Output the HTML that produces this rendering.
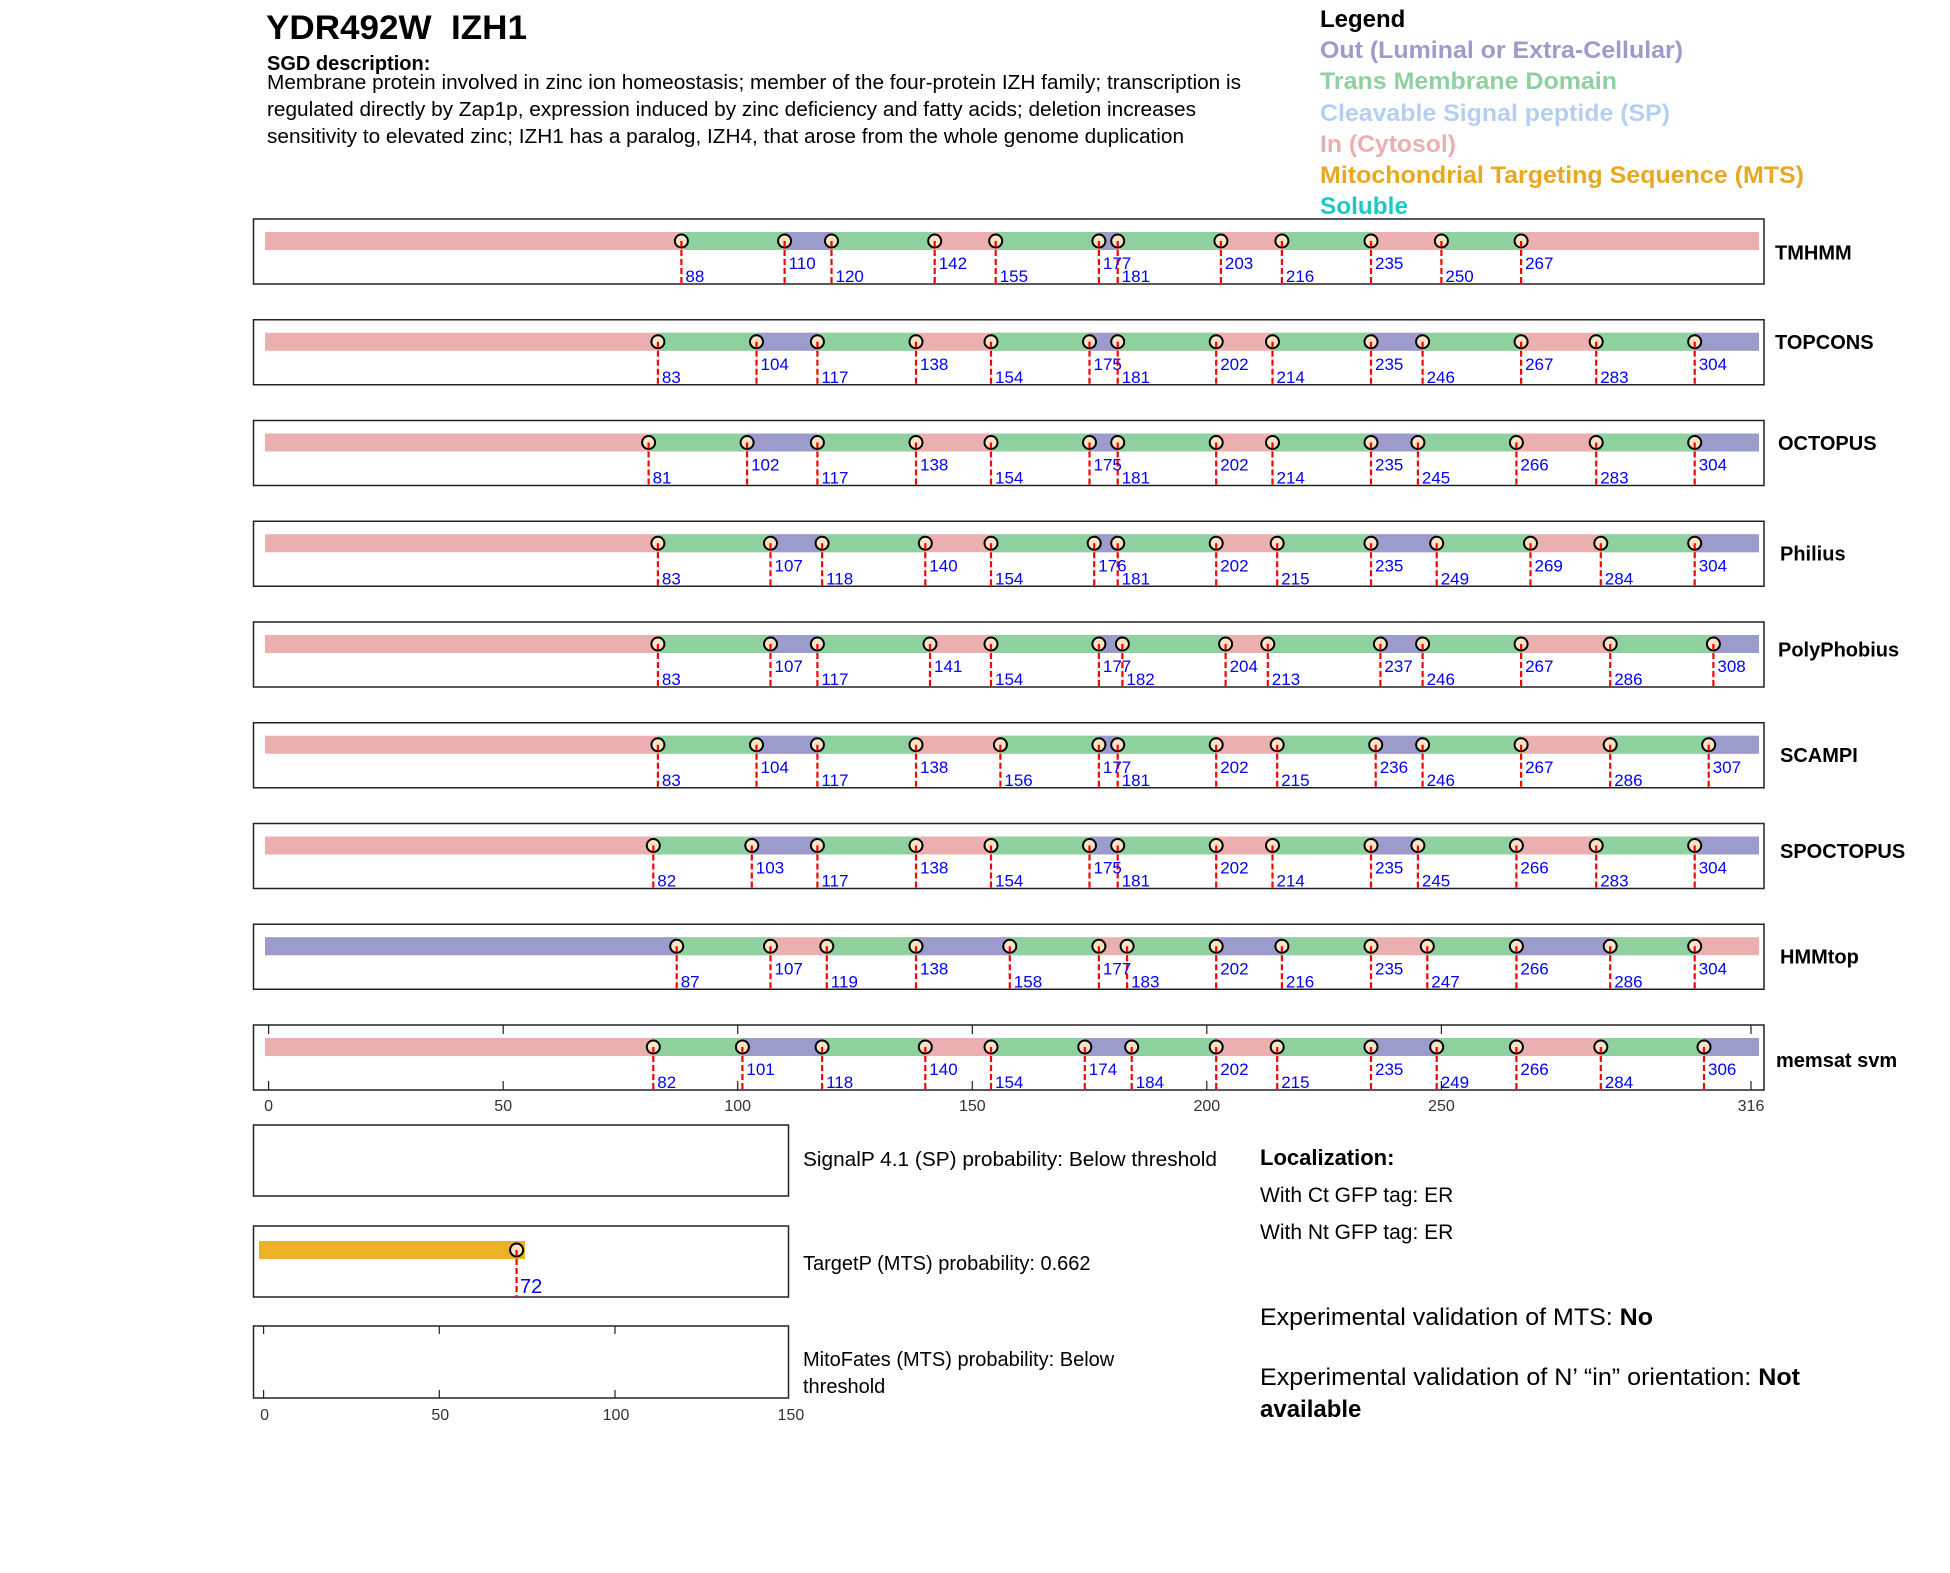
<!DOCTYPE html>
<html><head><meta charset="utf-8"><style>
html,body{margin:0;padding:0;background:#fff}
svg{display:block;font-family:"Liberation Sans",Arial,sans-serif}
.bx{fill:none;stroke:#222;stroke-width:1.5}
.g{fill:#8fd19e}.p{fill:#9b9bcc}.k{fill:#ebafb0}
.m circle,circle.m{r:6.5}
.m{fill:#fbe3c6;stroke:#000;stroke-width:2}
.d{stroke:#f00;stroke-width:2.2;stroke-dasharray:6,3}
.l{fill:#0000ff;font-size:17px}
.tn{font-size:20px;font-weight:bold;fill:#000}
.tk{font-size:16px;fill:#333}
.tm{stroke:#222;stroke-width:1.2}
</style></head><body>
<svg width="1950" height="1573" viewBox="0 0 1950 1573" xmlns="http://www.w3.org/2000/svg">
<text x="266" y="39" font-size="34" font-weight="bold" textLength="261" lengthAdjust="spacingAndGlyphs" style="white-space:pre">YDR492W  IZH1</text>
<text x="267" y="70" font-size="20" font-weight="bold">SGD description:</text>
<text x="267" y="89" font-size="20" textLength="974" lengthAdjust="spacingAndGlyphs">Membrane protein involved in zinc ion homeostasis; member of the four-protein IZH family; transcription is</text>
<text x="267" y="116" font-size="20" textLength="929" lengthAdjust="spacingAndGlyphs">regulated directly by Zap1p, expression induced by zinc deficiency and fatty acids; deletion increases</text>
<text x="267" y="143" font-size="20" textLength="917" lengthAdjust="spacingAndGlyphs">sensitivity to elevated zinc; IZH1 has a paralog, IZH4, that arose from the whole genome duplication</text>

<g font-size="24" font-weight="bold">
<text x="1320" y="27" fill="#000">Legend</text>
<text x="1320" y="58" fill="#9b9bcc" textLength="363" lengthAdjust="spacingAndGlyphs">Out (Luminal or Extra-Cellular)</text>
<text x="1320" y="89" fill="#8fd19e" textLength="297" lengthAdjust="spacingAndGlyphs">Trans Membrane Domain</text>
<text x="1320" y="121" fill="#b5cff0" textLength="350" lengthAdjust="spacingAndGlyphs">Cleavable Signal peptide (SP)</text>
<text x="1320" y="152" fill="#ebafb0" textLength="136" lengthAdjust="spacingAndGlyphs">In (Cytosol)</text>
<text x="1320" y="183" fill="#e8a820" textLength="484" lengthAdjust="spacingAndGlyphs">Mitochondrial Targeting Sequence (MTS)</text>
<text x="1320" y="214" fill="#1ec8c8" textLength="88" lengthAdjust="spacingAndGlyphs">Soluble</text>
</g>

<!-- TMHMM -->
<g transform="translate(0,219)">
<rect class="bx" x="253.5" y="0" width="1510.5" height="65"/>
<rect class="k" x="265" y="13" width="1494" height="18"/>
<rect class="g" x="681.4" y="13" width="103.2" height="18"/><rect class="p" x="784.6" y="13" width="46.9" height="18"/><rect class="g" x="831.5" y="13" width="103.2" height="18"/><rect class="g" x="995.7" y="13" width="103.2" height="18"/><rect class="p" x="1098.9" y="13" width="18.8" height="18"/><rect class="g" x="1117.7" y="13" width="103.2" height="18"/><rect class="g" x="1281.9" y="13" width="89.1" height="18"/><rect class="g" x="1441.4" y="13" width="79.7" height="18"/>
<g class="m"><circle cx="681.4" cy="22" r="6.5"/><circle cx="784.6" cy="22" r="6.5"/><circle cx="831.5" cy="22" r="6.5"/><circle cx="934.7" cy="22" r="6.5"/><circle cx="995.7" cy="22" r="6.5"/><circle cx="1098.9" cy="22" r="6.5"/><circle cx="1117.7" cy="22" r="6.5"/><circle cx="1220.9" cy="22" r="6.5"/><circle cx="1281.9" cy="22" r="6.5"/><circle cx="1371" cy="22" r="6.5"/><circle cx="1441.4" cy="22" r="6.5"/><circle cx="1521.1" cy="22" r="6.5"/></g>
<g class="d"><line x1="681.4" x2="681.4" y1="22" y2="65"/><line x1="784.6" x2="784.6" y1="22" y2="65"/><line x1="831.5" x2="831.5" y1="22" y2="65"/><line x1="934.7" x2="934.7" y1="22" y2="65"/><line x1="995.7" x2="995.7" y1="22" y2="65"/><line x1="1098.9" x2="1098.9" y1="22" y2="65"/><line x1="1117.7" x2="1117.7" y1="22" y2="65"/><line x1="1220.9" x2="1220.9" y1="22" y2="65"/><line x1="1281.9" x2="1281.9" y1="22" y2="65"/><line x1="1371" x2="1371" y1="22" y2="65"/><line x1="1441.4" x2="1441.4" y1="22" y2="65"/><line x1="1521.1" x2="1521.1" y1="22" y2="65"/></g>
<g class="l"><text x="685.4" y="63">88</text><text x="788.6" y="50">110</text><text x="835.5" y="63">120</text><text x="938.7" y="50">142</text><text x="999.7" y="63">155</text><text x="1102.9" y="50">177</text><text x="1121.7" y="63">181</text><text x="1224.9" y="50">203</text><text x="1285.9" y="63">216</text><text x="1375" y="50">235</text><text x="1445.4" y="63">250</text><text x="1525.1" y="50">267</text></g>
<text class="tn" x="1775" y="40.6">TMHMM</text>
</g>

<!-- TOPCONS -->
<g transform="translate(0,319.75)">
<rect class="bx" x="253.5" y="0" width="1510.5" height="65"/>
<rect class="k" x="265" y="13" width="1494" height="18"/>
<rect class="g" x="657.9" y="13" width="98.6" height="18"/><rect class="p" x="756.5" y="13" width="60.9" height="18"/><rect class="g" x="817.4" y="13" width="98.6" height="18"/><rect class="g" x="991" y="13" width="98.5" height="18"/><rect class="p" x="1089.5" y="13" width="28.2" height="18"/><rect class="g" x="1117.7" y="13" width="98.5" height="18"/><rect class="g" x="1272.5" y="13" width="98.5" height="18"/><rect class="p" x="1371" y="13" width="51.6" height="18"/><rect class="g" x="1422.6" y="13" width="98.5" height="18"/><rect class="g" x="1596.2" y="13" width="98.5" height="18"/><rect class="p" x="1694.7" y="13" width="64.3" height="18"/>
<g class="m"><circle cx="657.9" cy="22" r="6.5"/><circle cx="756.5" cy="22" r="6.5"/><circle cx="817.4" cy="22" r="6.5"/><circle cx="916" cy="22" r="6.5"/><circle cx="991" cy="22" r="6.5"/><circle cx="1089.5" cy="22" r="6.5"/><circle cx="1117.7" cy="22" r="6.5"/><circle cx="1216.2" cy="22" r="6.5"/><circle cx="1272.5" cy="22" r="6.5"/><circle cx="1371" cy="22" r="6.5"/><circle cx="1422.6" cy="22" r="6.5"/><circle cx="1521.1" cy="22" r="6.5"/><circle cx="1596.2" cy="22" r="6.5"/><circle cx="1694.7" cy="22" r="6.5"/></g>
<g class="d"><line x1="657.9" x2="657.9" y1="22" y2="65"/><line x1="756.5" x2="756.5" y1="22" y2="65"/><line x1="817.4" x2="817.4" y1="22" y2="65"/><line x1="916" x2="916" y1="22" y2="65"/><line x1="991" x2="991" y1="22" y2="65"/><line x1="1089.5" x2="1089.5" y1="22" y2="65"/><line x1="1117.7" x2="1117.7" y1="22" y2="65"/><line x1="1216.2" x2="1216.2" y1="22" y2="65"/><line x1="1272.5" x2="1272.5" y1="22" y2="65"/><line x1="1371" x2="1371" y1="22" y2="65"/><line x1="1422.6" x2="1422.6" y1="22" y2="65"/><line x1="1521.1" x2="1521.1" y1="22" y2="65"/><line x1="1596.2" x2="1596.2" y1="22" y2="65"/><line x1="1694.7" x2="1694.7" y1="22" y2="65"/></g>
<g class="l"><text x="661.9" y="63">83</text><text x="760.5" y="50">104</text><text x="821.4" y="63">117</text><text x="920" y="50">138</text><text x="995" y="63">154</text><text x="1093.5" y="50">175</text><text x="1121.7" y="63">181</text><text x="1220.2" y="50">202</text><text x="1276.5" y="63">214</text><text x="1375" y="50">235</text><text x="1426.6" y="63">246</text><text x="1525.1" y="50">267</text><text x="1600.2" y="63">283</text><text x="1698.7" y="50">304</text></g>
<text class="tn" x="1775" y="29.4">TOPCONS</text>
</g>

<!-- OCTOPUS -->
<g transform="translate(0,420.5)">
<rect class="bx" x="253.5" y="0" width="1510.5" height="65"/>
<rect class="k" x="265" y="13" width="1494" height="18"/>
<rect class="g" x="648.6" y="13" width="98.5" height="18"/><rect class="p" x="747.1" y="13" width="70.3" height="18"/><rect class="g" x="817.4" y="13" width="98.6" height="18"/><rect class="g" x="991" y="13" width="98.5" height="18"/><rect class="p" x="1089.5" y="13" width="28.2" height="18"/><rect class="g" x="1117.7" y="13" width="98.5" height="18"/><rect class="g" x="1272.5" y="13" width="98.5" height="18"/><rect class="p" x="1371" y="13" width="46.9" height="18"/><rect class="g" x="1417.9" y="13" width="98.5" height="18"/><rect class="g" x="1596.2" y="13" width="98.5" height="18"/><rect class="p" x="1694.7" y="13" width="64.3" height="18"/>
<g class="m"><circle cx="648.6" cy="22" r="6.5"/><circle cx="747.1" cy="22" r="6.5"/><circle cx="817.4" cy="22" r="6.5"/><circle cx="916" cy="22" r="6.5"/><circle cx="991" cy="22" r="6.5"/><circle cx="1089.5" cy="22" r="6.5"/><circle cx="1117.7" cy="22" r="6.5"/><circle cx="1216.2" cy="22" r="6.5"/><circle cx="1272.5" cy="22" r="6.5"/><circle cx="1371" cy="22" r="6.5"/><circle cx="1417.9" cy="22" r="6.5"/><circle cx="1516.4" cy="22" r="6.5"/><circle cx="1596.2" cy="22" r="6.5"/><circle cx="1694.7" cy="22" r="6.5"/></g>
<g class="d"><line x1="648.6" x2="648.6" y1="22" y2="65"/><line x1="747.1" x2="747.1" y1="22" y2="65"/><line x1="817.4" x2="817.4" y1="22" y2="65"/><line x1="916" x2="916" y1="22" y2="65"/><line x1="991" x2="991" y1="22" y2="65"/><line x1="1089.5" x2="1089.5" y1="22" y2="65"/><line x1="1117.7" x2="1117.7" y1="22" y2="65"/><line x1="1216.2" x2="1216.2" y1="22" y2="65"/><line x1="1272.5" x2="1272.5" y1="22" y2="65"/><line x1="1371" x2="1371" y1="22" y2="65"/><line x1="1417.9" x2="1417.9" y1="22" y2="65"/><line x1="1516.4" x2="1516.4" y1="22" y2="65"/><line x1="1596.2" x2="1596.2" y1="22" y2="65"/><line x1="1694.7" x2="1694.7" y1="22" y2="65"/></g>
<g class="l"><text x="652.6" y="63">81</text><text x="751.1" y="50">102</text><text x="821.4" y="63">117</text><text x="920" y="50">138</text><text x="995" y="63">154</text><text x="1093.5" y="50">175</text><text x="1121.7" y="63">181</text><text x="1220.2" y="50">202</text><text x="1276.5" y="63">214</text><text x="1375" y="50">235</text><text x="1421.9" y="63">245</text><text x="1520.4" y="50">266</text><text x="1600.2" y="63">283</text><text x="1698.7" y="50">304</text></g>
<text class="tn" x="1778" y="29.4">OCTOPUS</text>
</g>

<!-- Philius -->
<g transform="translate(0,521.25)">
<rect class="bx" x="253.5" y="0" width="1510.5" height="65"/>
<rect class="k" x="265" y="13" width="1494" height="18"/>
<rect class="g" x="657.9" y="13" width="112.6" height="18"/><rect class="p" x="770.5" y="13" width="51.6" height="18"/><rect class="g" x="822.1" y="13" width="103.2" height="18"/><rect class="g" x="991" y="13" width="103.2" height="18"/><rect class="p" x="1094.2" y="13" width="23.5" height="18"/><rect class="g" x="1117.7" y="13" width="98.5" height="18"/><rect class="g" x="1277.2" y="13" width="93.8" height="18"/><rect class="p" x="1371" y="13" width="65.7" height="18"/><rect class="g" x="1436.7" y="13" width="93.8" height="18"/><rect class="g" x="1600.8" y="13" width="93.9" height="18"/><rect class="p" x="1694.7" y="13" width="64.3" height="18"/>
<g class="m"><circle cx="657.9" cy="22" r="6.5"/><circle cx="770.5" cy="22" r="6.5"/><circle cx="822.1" cy="22" r="6.5"/><circle cx="925.3" cy="22" r="6.5"/><circle cx="991" cy="22" r="6.5"/><circle cx="1094.2" cy="22" r="6.5"/><circle cx="1117.7" cy="22" r="6.5"/><circle cx="1216.2" cy="22" r="6.5"/><circle cx="1277.2" cy="22" r="6.5"/><circle cx="1371" cy="22" r="6.5"/><circle cx="1436.7" cy="22" r="6.5"/><circle cx="1530.5" cy="22" r="6.5"/><circle cx="1600.8" cy="22" r="6.5"/><circle cx="1694.7" cy="22" r="6.5"/></g>
<g class="d"><line x1="657.9" x2="657.9" y1="22" y2="65"/><line x1="770.5" x2="770.5" y1="22" y2="65"/><line x1="822.1" x2="822.1" y1="22" y2="65"/><line x1="925.3" x2="925.3" y1="22" y2="65"/><line x1="991" x2="991" y1="22" y2="65"/><line x1="1094.2" x2="1094.2" y1="22" y2="65"/><line x1="1117.7" x2="1117.7" y1="22" y2="65"/><line x1="1216.2" x2="1216.2" y1="22" y2="65"/><line x1="1277.2" x2="1277.2" y1="22" y2="65"/><line x1="1371" x2="1371" y1="22" y2="65"/><line x1="1436.7" x2="1436.7" y1="22" y2="65"/><line x1="1530.5" x2="1530.5" y1="22" y2="65"/><line x1="1600.8" x2="1600.8" y1="22" y2="65"/><line x1="1694.7" x2="1694.7" y1="22" y2="65"/></g>
<g class="l"><text x="661.9" y="63">83</text><text x="774.5" y="50">107</text><text x="826.1" y="63">118</text><text x="929.3" y="50">140</text><text x="995" y="63">154</text><text x="1098.2" y="50">176</text><text x="1121.7" y="63">181</text><text x="1220.2" y="50">202</text><text x="1281.2" y="63">215</text><text x="1375" y="50">235</text><text x="1440.7" y="63">249</text><text x="1534.5" y="50">269</text><text x="1604.8" y="63">284</text><text x="1698.7" y="50">304</text></g>
<text class="tn" x="1780" y="39.3">Philius</text>
</g>

<!-- PolyPhobius -->
<g transform="translate(0,622)">
<rect class="bx" x="253.5" y="0" width="1510.5" height="65"/>
<rect class="k" x="265" y="13" width="1494" height="18"/>
<rect class="g" x="657.9" y="13" width="112.6" height="18"/><rect class="p" x="770.5" y="13" width="46.9" height="18"/><rect class="g" x="817.4" y="13" width="112.6" height="18"/><rect class="g" x="991" y="13" width="107.9" height="18"/><rect class="p" x="1098.9" y="13" width="23.5" height="18"/><rect class="g" x="1122.4" y="13" width="103.2" height="18"/><rect class="g" x="1267.8" y="13" width="112.6" height="18"/><rect class="p" x="1380.4" y="13" width="42.2" height="18"/><rect class="g" x="1422.6" y="13" width="98.5" height="18"/><rect class="g" x="1610.2" y="13" width="103.2" height="18"/><rect class="p" x="1713.4" y="13" width="45.6" height="18"/>
<g class="m"><circle cx="657.9" cy="22" r="6.5"/><circle cx="770.5" cy="22" r="6.5"/><circle cx="817.4" cy="22" r="6.5"/><circle cx="930" cy="22" r="6.5"/><circle cx="991" cy="22" r="6.5"/><circle cx="1098.9" cy="22" r="6.5"/><circle cx="1122.4" cy="22" r="6.5"/><circle cx="1225.6" cy="22" r="6.5"/><circle cx="1267.8" cy="22" r="6.5"/><circle cx="1380.4" cy="22" r="6.5"/><circle cx="1422.6" cy="22" r="6.5"/><circle cx="1521.1" cy="22" r="6.5"/><circle cx="1610.2" cy="22" r="6.5"/><circle cx="1713.4" cy="22" r="6.5"/></g>
<g class="d"><line x1="657.9" x2="657.9" y1="22" y2="65"/><line x1="770.5" x2="770.5" y1="22" y2="65"/><line x1="817.4" x2="817.4" y1="22" y2="65"/><line x1="930" x2="930" y1="22" y2="65"/><line x1="991" x2="991" y1="22" y2="65"/><line x1="1098.9" x2="1098.9" y1="22" y2="65"/><line x1="1122.4" x2="1122.4" y1="22" y2="65"/><line x1="1225.6" x2="1225.6" y1="22" y2="65"/><line x1="1267.8" x2="1267.8" y1="22" y2="65"/><line x1="1380.4" x2="1380.4" y1="22" y2="65"/><line x1="1422.6" x2="1422.6" y1="22" y2="65"/><line x1="1521.1" x2="1521.1" y1="22" y2="65"/><line x1="1610.2" x2="1610.2" y1="22" y2="65"/><line x1="1713.4" x2="1713.4" y1="22" y2="65"/></g>
<g class="l"><text x="661.9" y="63">83</text><text x="774.5" y="50">107</text><text x="821.4" y="63">117</text><text x="934" y="50">141</text><text x="995" y="63">154</text><text x="1102.9" y="50">177</text><text x="1126.4" y="63">182</text><text x="1229.6" y="50">204</text><text x="1271.8" y="63">213</text><text x="1384.4" y="50">237</text><text x="1426.6" y="63">246</text><text x="1525.1" y="50">267</text><text x="1614.2" y="63">286</text><text x="1717.4" y="50">308</text></g>
<text class="tn" x="1778" y="34.4">PolyPhobius</text>
</g>

<!-- SCAMPI -->
<g transform="translate(0,722.75)">
<rect class="bx" x="253.5" y="0" width="1510.5" height="65"/>
<rect class="k" x="265" y="13" width="1494" height="18"/>
<rect class="g" x="657.9" y="13" width="98.6" height="18"/><rect class="p" x="756.5" y="13" width="60.9" height="18"/><rect class="g" x="817.4" y="13" width="98.6" height="18"/><rect class="g" x="1000.4" y="13" width="98.5" height="18"/><rect class="p" x="1098.9" y="13" width="18.8" height="18"/><rect class="g" x="1117.7" y="13" width="98.5" height="18"/><rect class="g" x="1277.2" y="13" width="98.5" height="18"/><rect class="p" x="1375.7" y="13" width="46.9" height="18"/><rect class="g" x="1422.6" y="13" width="98.5" height="18"/><rect class="g" x="1610.2" y="13" width="98.5" height="18"/><rect class="p" x="1708.7" y="13" width="50.3" height="18"/>
<g class="m"><circle cx="657.9" cy="22" r="6.5"/><circle cx="756.5" cy="22" r="6.5"/><circle cx="817.4" cy="22" r="6.5"/><circle cx="916" cy="22" r="6.5"/><circle cx="1000.4" cy="22" r="6.5"/><circle cx="1098.9" cy="22" r="6.5"/><circle cx="1117.7" cy="22" r="6.5"/><circle cx="1216.2" cy="22" r="6.5"/><circle cx="1277.2" cy="22" r="6.5"/><circle cx="1375.7" cy="22" r="6.5"/><circle cx="1422.6" cy="22" r="6.5"/><circle cx="1521.1" cy="22" r="6.5"/><circle cx="1610.2" cy="22" r="6.5"/><circle cx="1708.7" cy="22" r="6.5"/></g>
<g class="d"><line x1="657.9" x2="657.9" y1="22" y2="65"/><line x1="756.5" x2="756.5" y1="22" y2="65"/><line x1="817.4" x2="817.4" y1="22" y2="65"/><line x1="916" x2="916" y1="22" y2="65"/><line x1="1000.4" x2="1000.4" y1="22" y2="65"/><line x1="1098.9" x2="1098.9" y1="22" y2="65"/><line x1="1117.7" x2="1117.7" y1="22" y2="65"/><line x1="1216.2" x2="1216.2" y1="22" y2="65"/><line x1="1277.2" x2="1277.2" y1="22" y2="65"/><line x1="1375.7" x2="1375.7" y1="22" y2="65"/><line x1="1422.6" x2="1422.6" y1="22" y2="65"/><line x1="1521.1" x2="1521.1" y1="22" y2="65"/><line x1="1610.2" x2="1610.2" y1="22" y2="65"/><line x1="1708.7" x2="1708.7" y1="22" y2="65"/></g>
<g class="l"><text x="661.9" y="63">83</text><text x="760.5" y="50">104</text><text x="821.4" y="63">117</text><text x="920" y="50">138</text><text x="1004.4" y="63">156</text><text x="1102.9" y="50">177</text><text x="1121.7" y="63">181</text><text x="1220.2" y="50">202</text><text x="1281.2" y="63">215</text><text x="1379.7" y="50">236</text><text x="1426.6" y="63">246</text><text x="1525.1" y="50">267</text><text x="1614.2" y="63">286</text><text x="1712.7" y="50">307</text></g>
<text class="tn" x="1780" y="39.3">SCAMPI</text>
</g>

<!-- SPOCTOPUS -->
<g transform="translate(0,823.5)">
<rect class="bx" x="253.5" y="0" width="1510.5" height="65"/>
<rect class="k" x="265" y="13" width="1494" height="18"/>
<rect class="g" x="653.3" y="13" width="98.5" height="18"/><rect class="p" x="751.8" y="13" width="65.6" height="18"/><rect class="g" x="817.4" y="13" width="98.6" height="18"/><rect class="g" x="991" y="13" width="98.5" height="18"/><rect class="p" x="1089.5" y="13" width="28.2" height="18"/><rect class="g" x="1117.7" y="13" width="98.5" height="18"/><rect class="g" x="1272.5" y="13" width="98.5" height="18"/><rect class="p" x="1371" y="13" width="46.9" height="18"/><rect class="g" x="1417.9" y="13" width="98.5" height="18"/><rect class="g" x="1596.2" y="13" width="98.5" height="18"/><rect class="p" x="1694.7" y="13" width="64.3" height="18"/>
<g class="m"><circle cx="653.3" cy="22" r="6.5"/><circle cx="751.8" cy="22" r="6.5"/><circle cx="817.4" cy="22" r="6.5"/><circle cx="916" cy="22" r="6.5"/><circle cx="991" cy="22" r="6.5"/><circle cx="1089.5" cy="22" r="6.5"/><circle cx="1117.7" cy="22" r="6.5"/><circle cx="1216.2" cy="22" r="6.5"/><circle cx="1272.5" cy="22" r="6.5"/><circle cx="1371" cy="22" r="6.5"/><circle cx="1417.9" cy="22" r="6.5"/><circle cx="1516.4" cy="22" r="6.5"/><circle cx="1596.2" cy="22" r="6.5"/><circle cx="1694.7" cy="22" r="6.5"/></g>
<g class="d"><line x1="653.3" x2="653.3" y1="22" y2="65"/><line x1="751.8" x2="751.8" y1="22" y2="65"/><line x1="817.4" x2="817.4" y1="22" y2="65"/><line x1="916" x2="916" y1="22" y2="65"/><line x1="991" x2="991" y1="22" y2="65"/><line x1="1089.5" x2="1089.5" y1="22" y2="65"/><line x1="1117.7" x2="1117.7" y1="22" y2="65"/><line x1="1216.2" x2="1216.2" y1="22" y2="65"/><line x1="1272.5" x2="1272.5" y1="22" y2="65"/><line x1="1371" x2="1371" y1="22" y2="65"/><line x1="1417.9" x2="1417.9" y1="22" y2="65"/><line x1="1516.4" x2="1516.4" y1="22" y2="65"/><line x1="1596.2" x2="1596.2" y1="22" y2="65"/><line x1="1694.7" x2="1694.7" y1="22" y2="65"/></g>
<g class="l"><text x="657.3" y="63">82</text><text x="755.8" y="50">103</text><text x="821.4" y="63">117</text><text x="920" y="50">138</text><text x="995" y="63">154</text><text x="1093.5" y="50">175</text><text x="1121.7" y="63">181</text><text x="1220.2" y="50">202</text><text x="1276.5" y="63">214</text><text x="1375" y="50">235</text><text x="1421.9" y="63">245</text><text x="1520.4" y="50">266</text><text x="1600.2" y="63">283</text><text x="1698.7" y="50">304</text></g>
<text class="tn" x="1780" y="34.4">SPOCTOPUS</text>
</g>

<!-- HMMtop -->
<g transform="translate(0,924.25)">
<rect class="bx" x="253.5" y="0" width="1510.5" height="65"/>
<rect class="k" x="265" y="13" width="1494" height="18"/>
<rect class="p" x="265" y="13" width="411.7" height="18"/><rect class="g" x="676.7" y="13" width="93.8" height="18"/><rect class="g" x="826.8" y="13" width="89.2" height="18"/><rect class="p" x="916" y="13" width="93.8" height="18"/><rect class="g" x="1009.8" y="13" width="89.1" height="18"/><rect class="g" x="1127.1" y="13" width="89.1" height="18"/><rect class="p" x="1216.2" y="13" width="65.7" height="18"/><rect class="g" x="1281.9" y="13" width="89.1" height="18"/><rect class="g" x="1427.3" y="13" width="89.1" height="18"/><rect class="p" x="1516.4" y="13" width="93.8" height="18"/><rect class="g" x="1610.2" y="13" width="84.5" height="18"/>
<g class="m"><circle cx="676.7" cy="22" r="6.5"/><circle cx="770.5" cy="22" r="6.5"/><circle cx="826.8" cy="22" r="6.5"/><circle cx="916" cy="22" r="6.5"/><circle cx="1009.8" cy="22" r="6.5"/><circle cx="1098.9" cy="22" r="6.5"/><circle cx="1127.1" cy="22" r="6.5"/><circle cx="1216.2" cy="22" r="6.5"/><circle cx="1281.9" cy="22" r="6.5"/><circle cx="1371" cy="22" r="6.5"/><circle cx="1427.3" cy="22" r="6.5"/><circle cx="1516.4" cy="22" r="6.5"/><circle cx="1610.2" cy="22" r="6.5"/><circle cx="1694.7" cy="22" r="6.5"/></g>
<g class="d"><line x1="676.7" x2="676.7" y1="22" y2="65"/><line x1="770.5" x2="770.5" y1="22" y2="65"/><line x1="826.8" x2="826.8" y1="22" y2="65"/><line x1="916" x2="916" y1="22" y2="65"/><line x1="1009.8" x2="1009.8" y1="22" y2="65"/><line x1="1098.9" x2="1098.9" y1="22" y2="65"/><line x1="1127.1" x2="1127.1" y1="22" y2="65"/><line x1="1216.2" x2="1216.2" y1="22" y2="65"/><line x1="1281.9" x2="1281.9" y1="22" y2="65"/><line x1="1371" x2="1371" y1="22" y2="65"/><line x1="1427.3" x2="1427.3" y1="22" y2="65"/><line x1="1516.4" x2="1516.4" y1="22" y2="65"/><line x1="1610.2" x2="1610.2" y1="22" y2="65"/><line x1="1694.7" x2="1694.7" y1="22" y2="65"/></g>
<g class="l"><text x="680.7" y="63">87</text><text x="774.5" y="50">107</text><text x="830.8" y="63">119</text><text x="920" y="50">138</text><text x="1013.8" y="63">158</text><text x="1102.9" y="50">177</text><text x="1131.1" y="63">183</text><text x="1220.2" y="50">202</text><text x="1285.9" y="63">216</text><text x="1375" y="50">235</text><text x="1431.3" y="63">247</text><text x="1520.4" y="50">266</text><text x="1614.2" y="63">286</text><text x="1698.7" y="50">304</text></g>
<text class="tn" x="1780" y="39.3">HMMtop</text>
</g>

<!-- memsat svm -->
<g transform="translate(0,1025)">
<rect class="bx" x="253.5" y="0" width="1510.5" height="65"/>
<g class="tm"><line x1="268.6" x2="268.6" y1="0" y2="9"/><line x1="503.2" x2="503.2" y1="0" y2="9"/><line x1="737.7" x2="737.7" y1="0" y2="9"/><line x1="972.3" x2="972.3" y1="0" y2="9"/><line x1="1206.8" x2="1206.8" y1="0" y2="9"/><line x1="1441.4" x2="1441.4" y1="0" y2="9"/><line x1="1751" x2="1751" y1="0" y2="9"/>
<line x1="268.6" x2="268.6" y1="56" y2="65"/><line x1="503.2" x2="503.2" y1="56" y2="65"/><line x1="737.7" x2="737.7" y1="56" y2="65"/><line x1="972.3" x2="972.3" y1="56" y2="65"/><line x1="1206.8" x2="1206.8" y1="56" y2="65"/><line x1="1441.4" x2="1441.4" y1="56" y2="65"/><line x1="1751" x2="1751" y1="56" y2="65"/></g>
<rect class="k" x="265" y="13" width="1494" height="18"/>
<rect class="g" x="653.3" y="13" width="89.1" height="18"/><rect class="p" x="742.4" y="13" width="79.7" height="18"/><rect class="g" x="822.1" y="13" width="103.2" height="18"/><rect class="g" x="991" y="13" width="93.8" height="18"/><rect class="p" x="1084.8" y="13" width="46.9" height="18"/><rect class="g" x="1131.7" y="13" width="84.5" height="18"/><rect class="g" x="1277.2" y="13" width="93.8" height="18"/><rect class="p" x="1371" y="13" width="65.7" height="18"/><rect class="g" x="1436.7" y="13" width="79.7" height="18"/><rect class="g" x="1600.8" y="13" width="103.2" height="18"/><rect class="p" x="1704" y="13" width="55" height="18"/>
<g class="m"><circle cx="653.3" cy="22" r="6.5"/><circle cx="742.4" cy="22" r="6.5"/><circle cx="822.1" cy="22" r="6.5"/><circle cx="925.3" cy="22" r="6.5"/><circle cx="991" cy="22" r="6.5"/><circle cx="1084.8" cy="22" r="6.5"/><circle cx="1131.7" cy="22" r="6.5"/><circle cx="1216.2" cy="22" r="6.5"/><circle cx="1277.2" cy="22" r="6.5"/><circle cx="1371" cy="22" r="6.5"/><circle cx="1436.7" cy="22" r="6.5"/><circle cx="1516.4" cy="22" r="6.5"/><circle cx="1600.8" cy="22" r="6.5"/><circle cx="1704" cy="22" r="6.5"/></g>
<g class="d"><line x1="653.3" x2="653.3" y1="22" y2="65"/><line x1="742.4" x2="742.4" y1="22" y2="65"/><line x1="822.1" x2="822.1" y1="22" y2="65"/><line x1="925.3" x2="925.3" y1="22" y2="65"/><line x1="991" x2="991" y1="22" y2="65"/><line x1="1084.8" x2="1084.8" y1="22" y2="65"/><line x1="1131.7" x2="1131.7" y1="22" y2="65"/><line x1="1216.2" x2="1216.2" y1="22" y2="65"/><line x1="1277.2" x2="1277.2" y1="22" y2="65"/><line x1="1371" x2="1371" y1="22" y2="65"/><line x1="1436.7" x2="1436.7" y1="22" y2="65"/><line x1="1516.4" x2="1516.4" y1="22" y2="65"/><line x1="1600.8" x2="1600.8" y1="22" y2="65"/><line x1="1704" x2="1704" y1="22" y2="65"/></g>
<g class="l"><text x="657.3" y="63">82</text><text x="746.4" y="50">101</text><text x="826.1" y="63">118</text><text x="929.3" y="50">140</text><text x="995" y="63">154</text><text x="1088.8" y="50">174</text><text x="1135.7" y="63">184</text><text x="1220.2" y="50">202</text><text x="1281.2" y="63">215</text><text x="1375" y="50">235</text><text x="1440.7" y="63">249</text><text x="1520.4" y="50">266</text><text x="1604.8" y="63">284</text><text x="1708" y="50">306</text></g>
<text class="tn" x="1776" y="41.8">memsat svm</text>
<g class="tk" text-anchor="middle"><text x="268.6" y="86">0</text><text x="503.2" y="86">50</text><text x="737.7" y="86">100</text><text x="972.3" y="86">150</text><text x="1206.8" y="86">200</text><text x="1441.4" y="86">250</text><text x="1751" y="86">316</text></g>
</g>

<!-- bottom panels -->
<rect class="bx" x="253.5" y="1125" width="535" height="71"/>
<rect class="bx" x="253.5" y="1226" width="535" height="71"/>
<rect x="259" y="1241" width="266" height="18" fill="#ecb125"/>
<circle class="m" cx="516.6" cy="1250" r="6.5"/>
<line class="d" x1="516.6" x2="516.6" y1="1250" y2="1297"/>
<text x="520" y="1293" font-size="20" fill="#0000ff">72</text>
<rect class="bx" x="253.5" y="1326" width="535" height="72"/>
<g class="tm"><line x1="263.6" x2="263.6" y1="1326" y2="1334"/><line x1="439.3" x2="439.3" y1="1326" y2="1334"/><line x1="615" x2="615" y1="1326" y2="1334"/><line x1="263.6" x2="263.6" y1="1390" y2="1398"/><line x1="439.3" x2="439.3" y1="1390" y2="1398"/><line x1="615" x2="615" y1="1390" y2="1398"/></g>
<g class="tk" text-anchor="middle"><text x="264.6" y="1420">0</text><text x="440.3" y="1420">50</text><text x="616" y="1420">100</text><text x="790.9" y="1420">150</text></g>

<g font-size="20" fill="#000">
<text x="803" y="1166" textLength="414" lengthAdjust="spacingAndGlyphs">SignalP 4.1 (SP) probability: Below threshold</text>
<text x="803" y="1270">TargetP (MTS) probability: 0.662</text>
<text x="803" y="1366">MitoFates (MTS) probability: Below</text>
<text x="803" y="1393">threshold</text>
<text x="1260" y="1165" font-size="22" font-weight="bold">Localization:</text>
<text x="1260" y="1202" font-size="21">With Ct GFP tag: ER</text>
<text x="1260" y="1239" font-size="21">With Nt GFP tag: ER</text>
</g>
<g font-size="24" fill="#000">
<text x="1260" y="1325" textLength="393" lengthAdjust="spacingAndGlyphs">Experimental validation of MTS: <tspan font-weight="bold">No</tspan></text>
<text x="1260" y="1385" textLength="540" lengthAdjust="spacingAndGlyphs">Experimental validation of N’ “in” orientation: <tspan font-weight="bold">Not</tspan></text>
<text x="1260" y="1417" font-weight="bold">available</text>
</g>
</svg>
</body></html>
